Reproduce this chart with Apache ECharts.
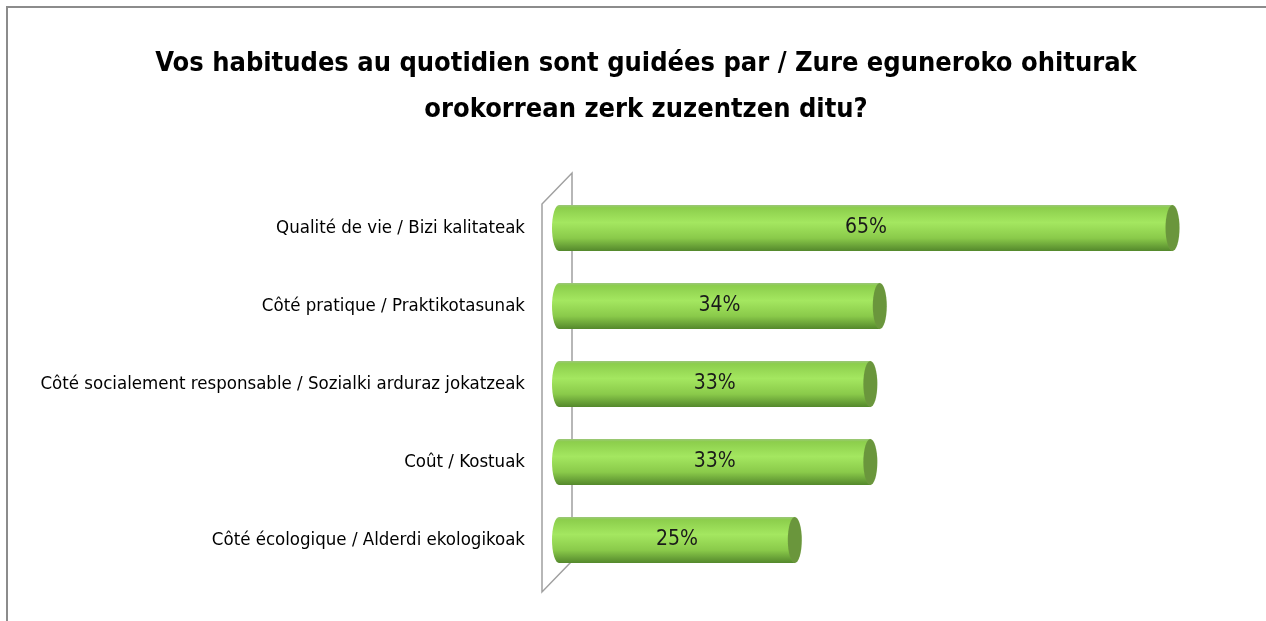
<!DOCTYPE html>
<html>
<head>
<meta charset="utf-8">
<script src="https://cdn.jsdelivr.net/npm/echarts@6/dist/echarts.min.js"></script>
<style>
  html, body { margin: 0; padding: 0; background: #fff; }
  #chart { width: 1266px; height: 621px; }
</style>
</head>
<body>
<div id="chart"></div>
<script>
var titleText = 'Vos habitudes au quotidien sont guidées par / Zure eguneroko ohiturak\norokorrean zerk zuzentzen ditu?';
var categories = [
    'Qualité de vie / Bizi kalitateak',
    'Côté pratique / Praktikotasunak',
    'Côté socialement responsable / Sozialki arduraz jokatzeak',
    'Coût / Kostuak',
    'Côté écologique / Alderdi ekologikoak'
];
var values = [65, 34, 33, 33, 25];

var font = '"Liberation Sans Narrow", "DejaVu Sans Condensed", sans-serif';
var gridLeft = 559, gridTop = 189, gridWidth = 661, gridHeight = 390;

var bodyColor = new echarts.graphic.LinearGradient(0, 0, 0, 1, [
    { offset: 0, color: '#9cc67a' },
    { offset: 0.06, color: '#8cce4c' },
    { offset: 0.38, color: '#a4e760' },
    { offset: 0.72, color: '#8aca4a' },
    { offset: 1, color: '#54882c' }
]);

var myChart = echarts.init(document.getElementById('chart'));
var option = {
    animation: false,
    backgroundColor: '#fff',
    title: {
        text: titleText,
        left: 641,
        textAlign: 'center',
        top: 36,
        textStyle: {
            fontFamily: font,
            fontSize: 27,
            fontWeight: 'bold',
            color: '#000',
            lineHeight: 46
        }
    },
    grid: { left: gridLeft, top: gridTop, width: gridWidth, height: gridHeight },
    xAxis: {
        type: 'value',
        min: 0,
        max: 70,
        show: false
    },
    yAxis: {
        type: 'category',
        inverse: true,
        data: categories,
        axisLine: { show: false },
        axisTick: { show: false },
        axisLabel: {
            margin: 34,
            color: '#000',
            fontSize: 18.5,
            fontFamily: font
        }
    },
    graphic: [
        // border of the chart area
        { type: 'polyline', z: 0, shape: { points: [[7, 621], [7, 7], [1266, 7]] },
          style: { stroke: '#8c8c8c', lineWidth: 2, fill: null } },
        // 3D wall of the category axis
        { type: 'polyline', z: 0, shape: { points: [[572, 555], [572, 173], [542, 204], [542, 592], [572, 561]] },
          style: { stroke: '#a0a0a0', lineWidth: 1.5, fill: null } }
    ],
    series: [
        {
            type: 'pictorialBar',
            data: values,
            symbol: 'circle',
            symbolSize: [14, 46],
            symbolPosition: 'start',
            symbolOffset: ['-50%', 0],
            barGap: '-100%',
            itemStyle: { color: bodyColor },
            z: 2
        },
        {
            type: 'bar',
            data: values,
            barWidth: 46,
            barGap: '-100%',
            itemStyle: { color: bodyColor },
            label: {
                show: true,
                position: 'inside',
                formatter: '{c}%',
                color: '#1a1a1a',
                fontSize: 21,
                fontFamily: font
            },
            z: 3
        },
        {
            type: 'pictorialBar',
            data: values,
            symbol: 'circle',
            symbolSize: [14, 46],
            symbolPosition: 'end',
            symbolOffset: ['50%', 0],
            barGap: '-100%',
            itemStyle: { color: '#6a963c', borderColor: '#8fc058', borderWidth: 1 },
            z: 4
        }
    ]
};
myChart.setOption(option);
</script>
</body>
</html>
